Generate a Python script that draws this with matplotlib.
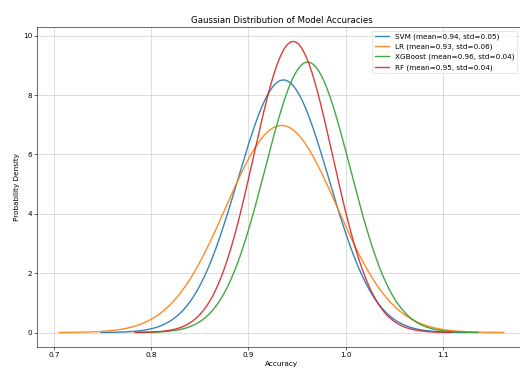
import numpy as np
import matplotlib
matplotlib.use("Agg")
import matplotlib.pyplot as plt

models = ["SVM", "LR", "XGBoost", "RF"]
means = [0.936, 0.934, 0.961, 0.946]
stds = [0.0469, 0.0572, 0.0438, 0.0407]
label_means = [0.94, 0.93, 0.96, 0.95]
label_stds = [0.05, 0.06, 0.04, 0.04]

s = 0.52
fig = plt.figure(figsize=(5.2, 3.68), dpi=100)
ax = fig.add_axes([37/520, 21/368, (526-37)/520, (347-27)/368])

for name, m, sd, lm, ls in zip(models, means, stds, label_means, label_stds):
    x = np.linspace(m - 4*sd, m + 4*sd, 300)
    y = np.exp(-0.5*((x - m)/sd)**2) / (sd*np.sqrt(2*np.pi))
    ax.plot(x, y, lw=1.0, alpha=0.9, label=f"{name} (mean={lm:.2f}, std={ls:.2f})")

ax.set_title("Gaussian Distribution of Model Accuracies", fontsize=12*s, pad=6*s)
ax.set_xlabel("Accuracy", fontsize=10*s, labelpad=4*s)
ax.set_ylabel("Probability Density", fontsize=10*s, labelpad=4*s)
ax.tick_params(labelsize=10*s, width=0.8*s, length=3.5*s, pad=3.5*s)
for sp in ax.spines.values():
    sp.set_linewidth(0.8*s)
ax.grid(True, lw=0.8*s, color="#b0b0b0", alpha=0.7)
leg = ax.legend(loc="upper right", bbox_to_anchor=(0.99, 1.0), fontsize=10*s, handlelength=2, borderpad=0.4)
leg.get_frame().set_linewidth(0.8*s)

fig.savefig("out.png", dpi=100)
